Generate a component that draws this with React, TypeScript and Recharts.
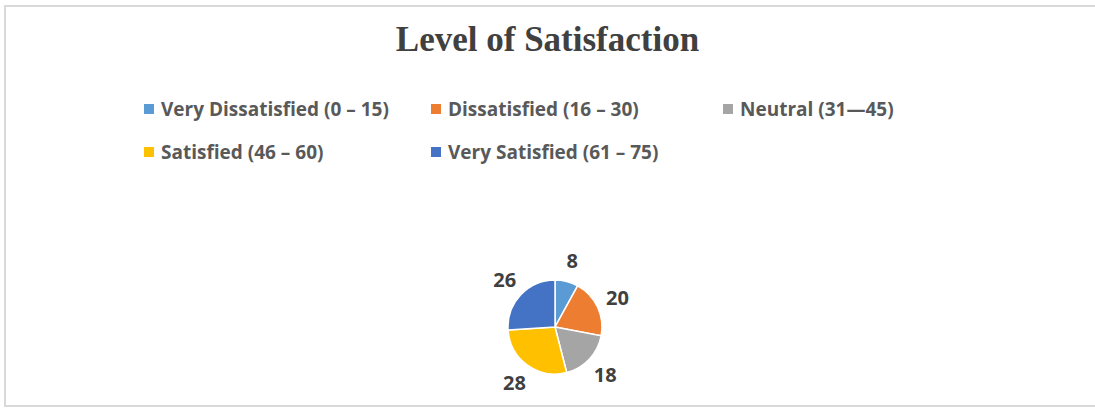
import { Cell, Pie, PieChart } from "recharts";

const categories = [
  "Very Dissatisfied (0 – 15)",
  "Dissatisfied (16 – 30)",
  "Neutral (31—45)",
  "Satisfied (46 – 60)",
  "Very Satisfied (61 – 75)",
];
const counts = [8, 20, 18, 28, 26];
const colors = ["#5B9BD5", "#ED7D31", "#A5A5A5", "#FFC000", "#4472C4"];

const data = categories.map((name, i) => ({ name, value: counts[i], color: colors[i] }));

// legend slots, Excel-style two rows
const legendSlots = [
  { left: 144, top: 97 },
  { left: 431, top: 97 },
  { left: 723, top: 97 },
  { left: 144, top: 140 },
  { left: 431, top: 140 },
];

const RADIAN = Math.PI / 180;

function renderLabel(props: any) {
  const { cx, cy, midAngle, outerRadius, value } = props;
  const r = outerRadius + 22;
  const x = cx + r * Math.cos(-midAngle * RADIAN);
  const y = cy + r * Math.sin(-midAngle * RADIAN);
  return (
    <text x={x} y={y} fill="#404040" fontSize={20} fontWeight="bold" fontFamily="'Open Sans', sans-serif" textAnchor="middle" dominantBaseline="central">
      {value}
    </text>
  );
}

export default function App() {
  return (
    <div style={{ position: "absolute", left: 0, top: 0, width: 1095, height: 408, background: "#fff", overflow: "hidden" }}>
      <div
        style={{
          position: "absolute",
          left: 4,
          top: 5,
          width: 1100,
          height: 402,
          border: "2px solid #d9d9d9",
          boxSizing: "border-box",
        }}
      />
      <div
        style={{
          position: "absolute",
          left: 0,
          width: 1095,
          top: 18,
          textAlign: "center",
          fontFamily: "'Liberation Serif', 'Times New Roman', serif",
          fontWeight: 700,
          fontSize: 35,
          lineHeight: "44px",
          color: "#404040",
        }}
      >
        Level of Satisfaction
      </div>
      {data.map((d, i) => (
        <div
          key={d.name}
          style={{
            position: "absolute",
            left: legendSlots[i].left,
            top: legendSlots[i].top,
            height: 24,
            display: "flex",
            alignItems: "center",
            fontFamily: "'Open Sans', sans-serif",
            fontWeight: 700,
            fontSize: 19,
            color: "#595959",
            whiteSpace: "nowrap",
          }}
        >
          <span style={{ display: "inline-block", width: 10, height: 10, background: d.color, marginRight: 7 }} />
          {d.name}
        </div>
      ))}
      <PieChart width={1095} height={408} style={{ position: "absolute", left: 0, top: 0 }} margin={{ top: 0, right: 0, bottom: 0, left: 0 }}>
        <Pie
          data={data}
          dataKey="value"
          nameKey="name"
          cx={555}
          cy={327}
          outerRadius={47}
          startAngle={90}
          endAngle={-270}
          stroke="#ffffff"
          strokeWidth={1.5}
          label={renderLabel}
          labelLine={false}
          isAnimationActive={false}
        >
          {data.map((d) => (
            <Cell key={d.name} fill={d.color} />
          ))}
        </Pie>
      </PieChart>
    </div>
  );
}
